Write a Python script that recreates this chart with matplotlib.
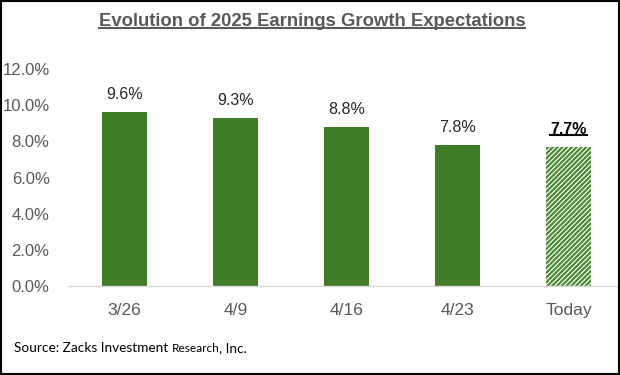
import matplotlib
matplotlib.use("Agg")
import matplotlib.pyplot as plt
from matplotlib.lines import Line2D
from matplotlib.patches import Rectangle

categories = ["3/26", "4/9", "4/16", "4/23", "Today"]
values = [9.6, 9.3, 8.8, 7.8, 7.7]
yticks = [0, 2, 4, 6, 8, 10, 12]

plt.rcParams['font.family'] = ['Liberation Sans', 'DejaVu Sans']
plt.rcParams['hatch.linewidth'] = 1.6

fig = plt.figure(figsize=(6.2, 3.75), dpi=100)
ax = fig.add_axes([69/620, 0.2373, 555/620, 0.5787])

green = "#3F7D26"
x = list(range(len(categories)))
ax.bar(x[:-1], values[:-1], width=0.405, color=green, zorder=2)
ax.bar(x[-1:], values[-1:], width=0.405, color="white", edgecolor="#4A8A32",
       hatch="///////", linewidth=0, zorder=2)

ax.set_xlim(-0.5, 4.5)
ax.set_ylim(0, 12)
ax.set_yticks(yticks)
ax.set_yticklabels([f"{v:.1f}%" for v in yticks])
ax.set_xticks(x)
ax.set_xticklabels(categories)
ax.tick_params(axis='both', length=0, labelsize=12.5, colors="#595959")
ax.tick_params(axis='y', labelsize=12)
ax.tick_params(axis='x', pad=12)
ax.tick_params(axis='y', pad=14)
for s in ["top", "right", "left"]:
    ax.spines[s].set_visible(False)
ax.spines["bottom"].set_color("#D9D9D9")
ax.spines["bottom"].set_linewidth(1)

label_texts = []
for i, v in enumerate(values):
    if i < len(values) - 1:
        ax.text(i, v + 0.55, f"{v:.1f}%", ha="center", va="bottom", fontsize=11.5, color="#262626")
    else:
        t = ax.text(i, v + 0.55, f"{v:.1f}%", ha="center", va="bottom", fontsize=11.5,
                    color="black", fontweight="bold")
        label_texts.append(t)

title = fig.text(0.503, 1 - 22/375, "Evolution of 2025 Earnings Growth Expectations", ha="center",
                 va="center", fontsize=13.3, fontweight="bold", color="#595959")

src_font = ["Lato", "DejaVu Sans"]
ybase = 1 - 352/375
s1 = fig.text(14/620, ybase, "Source: Zacks Investment ", ha="left", va="baseline",
              fontsize=9.8, color="black", family=src_font)

fig.canvas.draw()
r = fig.canvas.get_renderer()
inv = fig.transFigure.inverted()

def underline(t, color, lw, off=2):
    bb = t.get_window_extent(r)
    (x0, y0), (x1, y1) = inv.transform([[bb.x0, bb.y0], [bb.x1, bb.y0]])
    yy = y0 + off / 375
    fig.add_artist(Line2D([x0, x1], [yy, yy], transform=fig.transFigure, color=color, lw=lw))

underline(title, "#595959", 1.5, off=3)
for t in label_texts:
    underline(t, "black", 1.5, off=2)

bb = s1.get_window_extent(r)
xs = inv.transform([[bb.x1, bb.y0]])[0][0]
s2 = fig.text(xs, ybase, "Research", ha="left", va="baseline", fontsize=8.6,
              color="black", family=src_font)
fig.canvas.draw()
bb = s2.get_window_extent(r)
xs = inv.transform([[bb.x1, bb.y0]])[0][0]
fig.text(xs, ybase, ", Inc.", ha="left", va="baseline", fontsize=9.8,
         color="black", family=src_font)

fig.add_artist(Rectangle((0.002, 0.003), 0.996, 0.994, transform=fig.transFigure,
                         fill=False, edgecolor="black", lw=1.5))

fig.savefig("out.png", dpi=100)
